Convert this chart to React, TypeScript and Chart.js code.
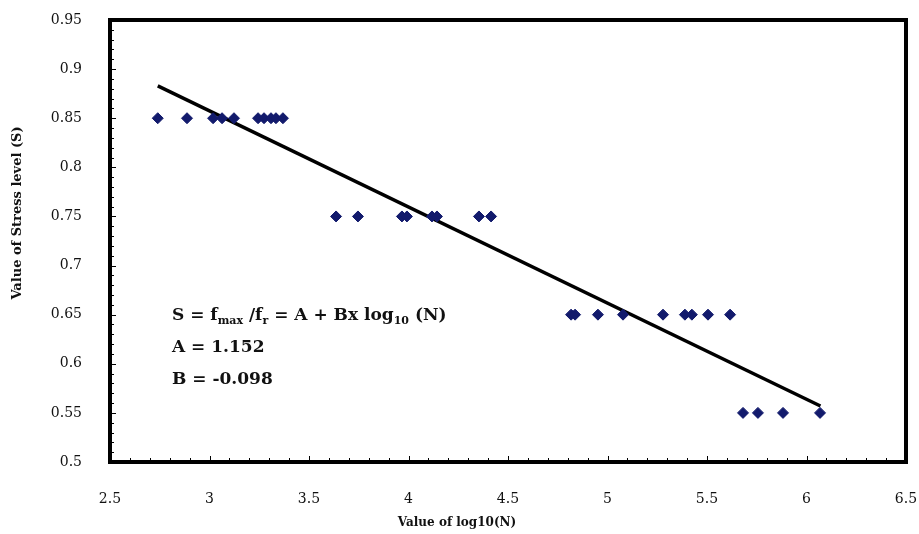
import React, { useEffect, useRef } from "react";
import { Chart, registerables } from "chart.js";

Chart.register(...registerables);

// Observed data: log10(N) and stress level S
const logN_085 = [2.74, 2.887, 3.018, 3.063, 3.123, 3.244, 3.274, 3.309, 3.334, 3.369];
const logN_075 = [3.636, 3.746, 3.967, 3.992, 4.118, 4.143, 4.354, 4.415];
const logN_065 = [4.817, 4.837, 4.952, 5.078, 5.279, 5.389, 5.424, 5.505, 5.616];
const logN_055 = [5.681, 5.756, 5.882, 6.068];
const stressLevels = [0.85, 0.75, 0.65, 0.55];

// Fitted trend line end points (S = 1.152 - 0.098 log10 N)
const trendX = [2.74, 6.07];
const trendY = [0.883, 0.557];

const xTitle = "Value of log10(N)";
const yTitle = "Value of Stress level (S)";

const MARK = "#121a6c";
const SERIF = "'DejaVu Serif', 'Liberation Serif', serif";

function fmt(v: number) {
  return String(Number(Number(v).toFixed(2)));
}

export default function App() {
  const ref = useRef<HTMLCanvasElement | null>(null);

  useEffect(() => {
    const canvas = ref.current;
    if (!canvas) return;
    document.body.style.margin = "0";

    const groups = [logN_085, logN_075, logN_065, logN_055];
    const points: { x: number; y: number }[] = [];
    groups.forEach((g, i) => g.forEach((x) => points.push({ x, y: stressLevels[i] })));

    const decor = {
      id: "decor",
      afterDraw(chart: any) {
        const ctx = chart.ctx;
        const a = chart.chartArea;
        const xs = chart.scales.x;
        const ys = chart.scales.y;
        ctx.save();
        ctx.strokeStyle = "#000";
        // minor / major ticks (inside)
        ctx.lineWidth = 1;
        ctx.beginPath();
        for (let i = 0; i <= 45; i++) {
          const v = 0.5 + i * 0.01;
          const py = Math.round(ys.getPixelForValue(v)) + 0.5;
          const len = i % 5 === 0 ? 6 : 4;
          ctx.moveTo(a.left, py);
          ctx.lineTo(a.left + len, py);
        }
        for (let i = 0; i <= 40; i++) {
          const v = 2.5 + i * 0.1;
          const px = Math.round(xs.getPixelForValue(v)) + 0.5;
          const len = i % 5 === 0 ? 6 : 4;
          ctx.moveTo(px, a.bottom);
          ctx.lineTo(px, a.bottom - len);
        }
        ctx.stroke();
        // frame
        ctx.lineWidth = 4;
        ctx.strokeRect(a.left, a.top, a.right - a.left, a.bottom - a.top);

        // axis titles
        ctx.fillStyle = "#111";
        ctx.font = `bold 12px ${SERIF}`;
        ctx.textAlign = "center";
        ctx.textBaseline = "middle";
        ctx.fillText(xTitle, 457, 523);
        ctx.save();
        ctx.translate(18, 213);
        ctx.rotate(-Math.PI / 2);
        ctx.font = `bold 13px ${SERIF}`;
        ctx.fillText(yTitle, 0, 0);
        ctx.restore();

        // equation annotation
        ctx.textAlign = "left";
        ctx.textBaseline = "alphabetic";
        const big = `bold 17px ${SERIF}`;
        const small = `bold 11px ${SERIF}`;
        const parts: [string, boolean][] = [
          ["S = f", false],
          ["max", true],
          [" /f", false],
          ["r", true],
          [" = A + Bx log", false],
          ["10", true],
          [" (N)", false],
        ];
        let x = 172;
        const base1 = 320;
        for (const [t, sub] of parts) {
          ctx.font = sub ? small : big;
          ctx.fillText(t, x, sub ? base1 + 4 : base1);
          x += ctx.measureText(t).width;
        }
        ctx.font = big;
        ctx.fillText("A = 1.152", 172, 352);
        ctx.fillText("B = -0.098", 172, 384);
        ctx.restore();
      },
    };

    const chart = new Chart(canvas, {
      type: "scatter",
      data: {
        datasets: [
          {
            type: "scatter",
            data: points,
            pointStyle: "rectRot",
            pointRadius: 5.5,
            pointHoverRadius: 5.5,
            backgroundColor: MARK,
            borderColor: MARK,
            borderWidth: 1,
          },
          {
            type: "line",
            data: trendX.map((x, i) => ({ x, y: trendY[i] })),
            borderColor: "#000",
            borderWidth: 3.5,
            pointRadius: 0,
            showLine: true,
            fill: false,
          } as any,
        ],
      },
      options: {
        animation: false,
        responsive: false,
        layout: { padding: { top: 20, right: 13, left: 0, bottom: 0 } },
        plugins: { legend: { display: false }, tooltip: { enabled: false } },
        scales: {
          x: {
            type: "linear",
            min: 2.5,
            max: 6.5,
            grid: { display: false },
            border: { display: false },
            ticks: {
              stepSize: 0.5,
              padding: 21,
              color: "#111",
              font: { family: SERIF, size: 14 },
              callback: (v: any) => fmt(v),
            },
            afterFit: (s: any) => {
              s.height = 72;
              s.paddingLeft = 0;
              s.paddingRight = 0;
            },
          },
          y: {
            type: "linear",
            min: 0.5,
            max: 0.95,
            grid: { display: false },
            border: { display: false },
            ticks: {
              stepSize: 0.05,
              padding: 20,
              color: "#111",
              font: { family: SERIF, size: 14 },
              callback: (v: any) => fmt(v),
            },
            afterFit: (s: any) => {
              s.width = 110;
              s.paddingTop = 0;
              s.paddingBottom = 0;
            },
          },
        },
      },
      plugins: [decor],
    });

    return () => chart.destroy();
  }, []);

  return (
    <div style={{ position: "fixed", left: 0, top: 0, width: 919, height: 534, background: "#fff" }}>
      <canvas ref={ref} width={919} height={534} />
    </div>
  );
}
